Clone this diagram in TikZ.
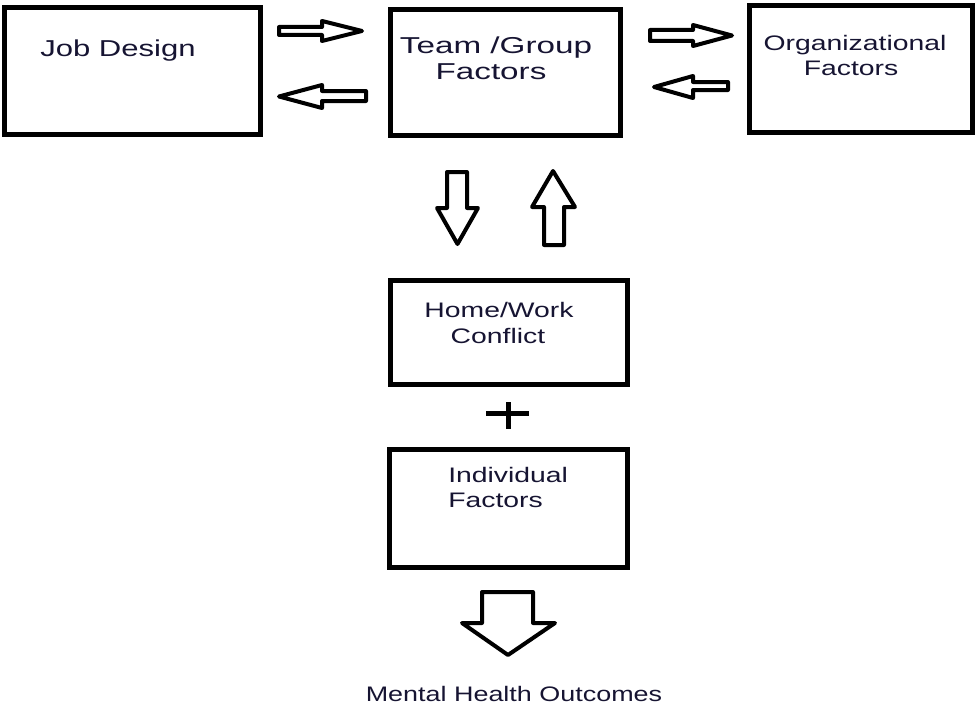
\documentclass[tikz,border=0pt]{standalone}
\usepackage{fontspec}
\setmainfont{Liberation Sans}
\definecolor{labelink}{RGB}{22,20,50}
\tikzset{
  box/.style={draw, line width=5.5pt, rectangle, inner sep=0pt},
  lbl/.style={text=labelink, font=\fontsize{21}{25}\selectfont, inner sep=0pt, xscale=1.35},
  biglbl/.style={lbl, font=\fontsize{23}{27}\selectfont},
  blockarrow/.style={draw, line width=4pt, line join=round, fill=white}
}
\begin{document}
\begin{tikzpicture}[x=1pt,y=-1pt]
\useasboundingbox (0,0) rectangle (977,709);
% boxes
\node[box, minimum width=256pt, minimum height=127pt] (job) at (132.5,71) {};
\node[box, minimum width=230pt, minimum height=126pt] (team) at (505.5,72.5) {};
\node[box, minimum width=223pt, minimum height=127pt] (org) at (861,69) {};
\node[box, minimum width=237pt, minimum height=104pt] (home) at (509,332.5) {};
\node[box, minimum width=238pt, minimum height=118pt] (indiv) at (508.5,508.5) {};
% labels
\node[biglbl, anchor=base] (jobtxt) at (118,57) {Job Design};
\node[biglbl, anchor=base, xscale=1.07] (teamtxt) at (496,53) {Team /Group};
\node[biglbl, anchor=base, xscale=1.07] (teamtxtb) at (491,79) {Factors};
\node[lbl, anchor=base] (orgtxt) at (855,51) {Organizational};
\node[lbl, anchor=base] (orgtxtb) at (851,75) {Factors};
\node[lbl, anchor=base] (hometxt) at (499,317) {Home/Work};
\node[lbl, anchor=base] (hometxtb) at (498,343) {Conflict};
\node[lbl, anchor=base west] (indivtxt) at (448,482) {Individual};
\node[lbl, anchor=base west] (indivtxtb) at (448,507) {Factors};
\node[lbl, anchor=base, xscale=0.95] (outtxt) at (514,701) {Mental Health Outcomes};
% block arrows between job and team
\draw[blockarrow] (279,27) -- (322,27) -- (322,21) -- (362,31) -- (322,41) -- (322,35) -- (279,35) -- cycle;
\draw[blockarrow] (279,96.5) -- (322,85) -- (322,91) -- (366,91) -- (366,101) -- (322,101) -- (322,108) -- cycle;
% block arrows between team and org
\draw[blockarrow] (650,30) -- (693,30) -- (693,25) -- (732,35.5) -- (693,46) -- (693,41) -- (650,41) -- cycle;
\draw[blockarrow] (654,87) -- (693,76) -- (693,82) -- (728,82) -- (728,90) -- (693,90) -- (693,98) -- cycle;
% up and down
\draw[blockarrow] (447,172) -- (467,172) -- (467,208) -- (478,208) -- (457.5,244) -- (437,208) -- (447,208) -- cycle;
\draw[blockarrow] (553,171) -- (575,207) -- (564,207) -- (564,245) -- (544,245) -- (544,207) -- (532,207) -- cycle;
% plus
\draw[line width=5pt] (486,413) -- (529,413);
\draw[line width=5pt] (508,402) -- (508,429);
% outcome arrow
\draw[blockarrow] (482,592) -- (533,592) -- (533,623) -- (555,623) -- (508,655) -- (462,623) -- (482,623) -- cycle;
\end{tikzpicture}
\end{document}
